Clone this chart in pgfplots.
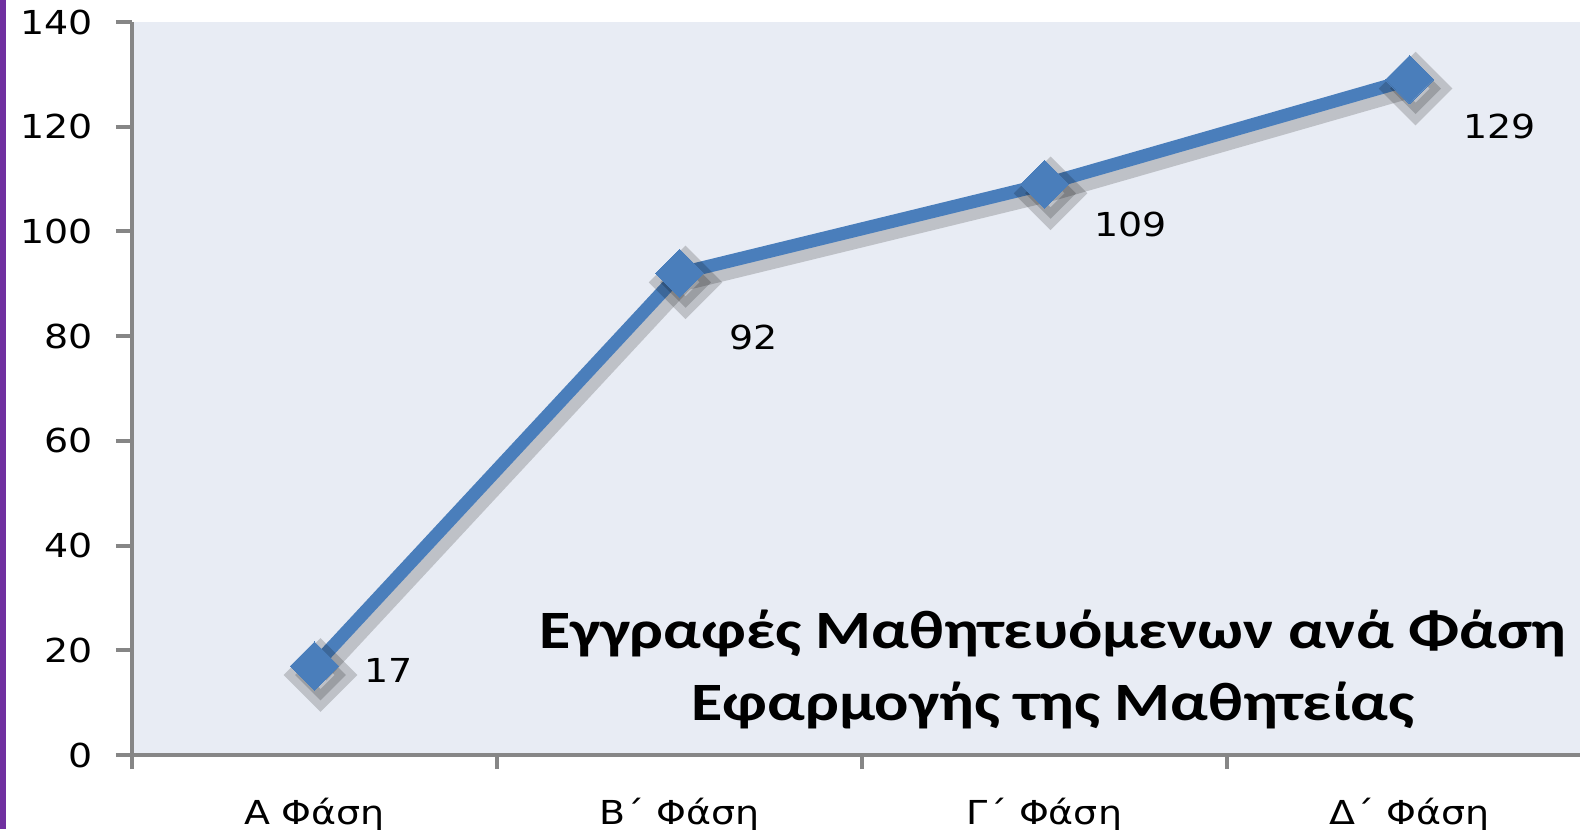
\documentclass[border=0pt]{standalone}
\usepackage{pgfplots}
\pgfplotsset{compat=1.18}
\usepackage{fontspec}
\setmainfont[FakeStretch=1.15]{DejaVu Sans}
\newfontfamily\titlefont[FakeStretch=1.185]{Carlito}
\definecolor{bg}{RGB}{232,236,244}
\definecolor{ln}{RGB}{74,126,187}
\definecolor{ax}{RGB}{134,134,134}
\definecolor{purp}{RGB}{112,48,160}
\begin{document}
\begin{tikzpicture}[x=1bp,y=1bp]
\useasboundingbox (0,0) rectangle (790,414.5);
\fill[purp] (0,0) rectangle (3,414.5);
\begin{axis}[
  at={(66bp,37bp)}, anchor=south west,
  scale only axis, width=724bp, height=366.5bp,
  xmin=0, xmax=3.967, ymin=0, ymax=140,
  axis lines*=left,
  axis line style={draw=ax, line width=2bp},
  axis background/.style={fill=bg},
  ytick={0,20,...,140},
  ytick style={draw=ax, line width=2bp},
  tick align=outside, major tick length=8bp,
  xtick={0.5,1.5,2.5,3.5},
  xticklabels={Α Φάση, Β΄ Φάση, Γ΄ Φάση, Δ΄ Φάση},
  xtick style={draw=none},
  extra x ticks={0,1,2,3},
  extra x tick labels={},
  extra x tick style={xtick style={draw=ax, line width=2bp}, major tick length=7bp},
  /pgf/number format/assume math mode=true,
  tick label style={font=\fontsize{16.5bp}{20bp}\selectfont},
  xticklabel style={anchor=base, yshift=-26.5bp},
  yticklabel style={anchor=east, xshift=-8bp},
  clip=false,
]
\addplot[draw=black, opacity=0.18, line width=8bp, xshift=3bp, yshift=-4.5bp,
  mark=square*, mark size=9bp, mark options={rotate=45, draw=black, fill=black}]
  coordinates {(0.5,17) (1.5,92) (2.5,109) (3.5,129)};
\addplot[draw=ln, line width=6.5bp, mark=square*, mark size=8.5bp,
  mark options={rotate=45, draw=ln, fill=ln, line width=0pt}]
  coordinates {(0.5,17) (1.5,92) (2.5,109) (3.5,129)};
\node[font=\fontsize{16.5bp}{20bp}\selectfont] at ([shift={(37bp,-2bp)}]axis cs:0.5,17) {17};
\node[font=\fontsize{16.5bp}{20bp}\selectfont] at ([shift={(37bp,-32bp)}]axis cs:1.5,92) {92};
\node[font=\fontsize{16.5bp}{20bp}\selectfont] at ([shift={(43bp,-20bp)}]axis cs:2.5,109) {109};
\node[font=\fontsize{16.5bp}{20bp}\selectfont] at ([shift={(45bp,-23.5bp)}]axis cs:3.5,129) {129};
\node[font=\titlefont\bfseries\fontsize{27bp}{36bp}\selectfont, align=center]
  at (axis cs:2.523,16.4) {Εγγραφές Μαθητευόμενων ανά Φάση\\Εφαρμογής της Μαθητείας};
\end{axis}
\end{tikzpicture}
\end{document}
